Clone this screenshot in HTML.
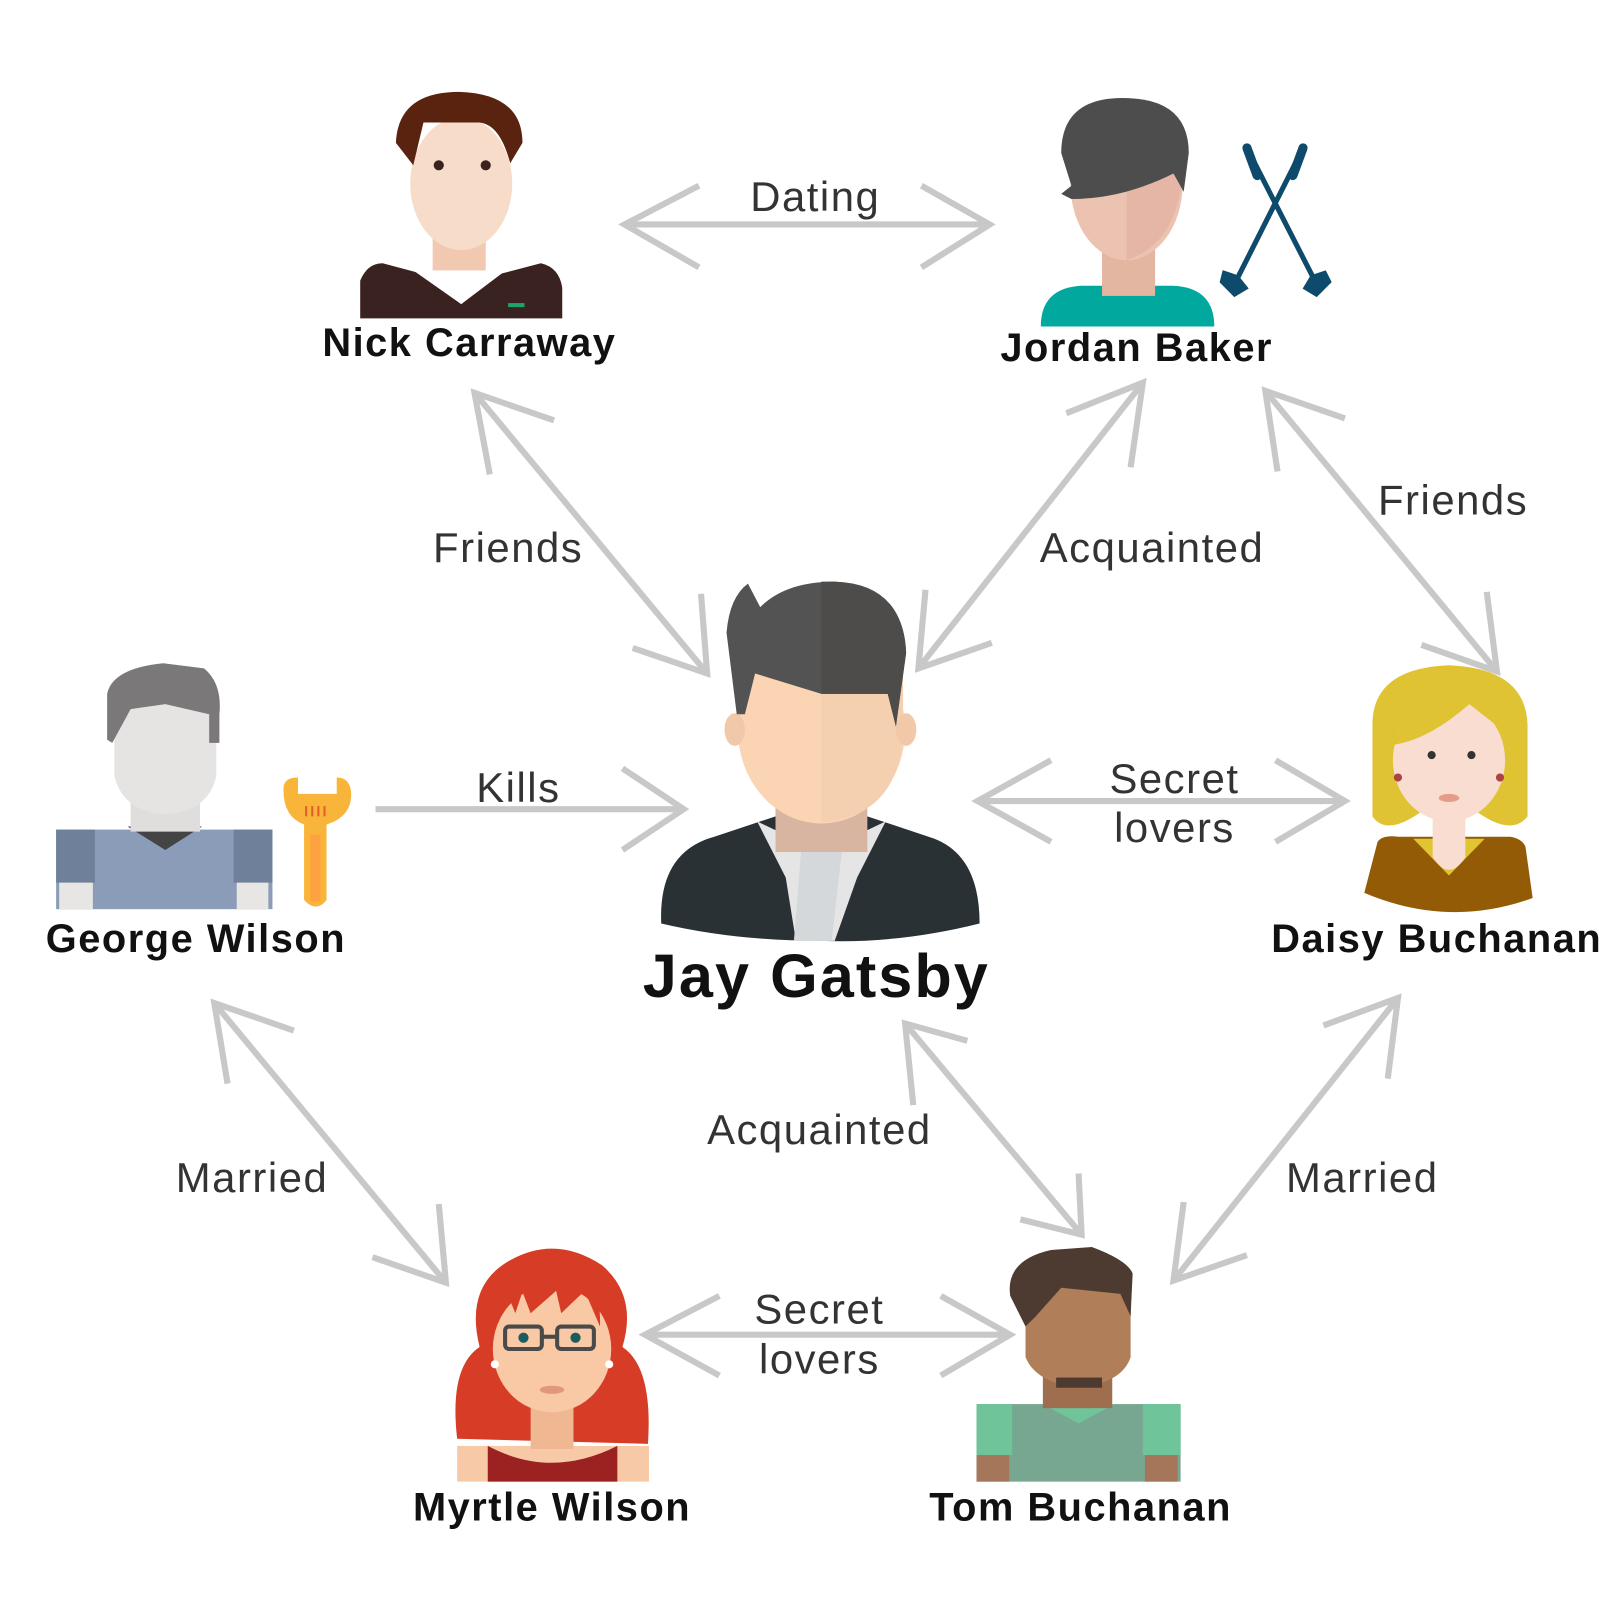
<!DOCTYPE html>
<html><head><style>
html,body{margin:0;padding:0;background:#fff;width:1600px;height:1600px;overflow:hidden}
svg{display:block}
.lbl{font-family:"Liberation Sans",sans-serif;font-size:41px;fill:#333;text-anchor:middle;letter-spacing:1.5px}
.nm{font-family:"Liberation Sans",sans-serif;font-weight:bold;font-size:39px;fill:#111;text-anchor:middle;letter-spacing:1.5px}
.ar{stroke:#c8c8c8;stroke-width:6;fill:none;stroke-linecap:butt}
</style></head><body>
<svg width="1600" height="1600" viewBox="0 0 1568 1568" xmlns="http://www.w3.org/2000/svg">
<g class="ar">
<line x1="612" y1="220" x2="970" y2="220"/><polyline points="685,182 612,220 685,262"/><polyline points="903,182 970,220 903,262"/>
<line x1="465" y1="385" x2="693" y2="660"/><polyline points="543,412 465,385 480,465"/><polyline points="620,635 693,660 687,582"/>
<line x1="1120" y1="375" x2="900" y2="655"/><polyline points="1045,405 1120,375 1108,458"/><polyline points="972,630 900,655 907,578"/>
<line x1="1240" y1="383" x2="1467" y2="658"/><polyline points="1318,410 1240,383 1252,462"/><polyline points="1393,632 1467,658 1457,580"/>
<line x1="368" y1="793" x2="670" y2="793"/><polyline points="610,753 670,793 610,833"/>
<line x1="958" y1="785" x2="1318" y2="785"/><polyline points="1030,745 958,785 1030,825"/><polyline points="1250,745 1318,785 1250,825"/>
<line x1="210" y1="983" x2="437" y2="1257"/><polyline points="288,1010 210,983 223,1062"/><polyline points="365,1232 437,1257 430,1180"/>
<line x1="887" y1="1003" x2="1060" y2="1210"/><polyline points="948,1020 887,1003 895,1083"/><polyline points="1000,1195 1060,1210 1057,1150"/>
<line x1="1370" y1="978" x2="1150" y2="1255"/><polyline points="1297,1005 1370,978 1360,1057"/><polyline points="1222,1230 1150,1255 1160,1178"/>
<line x1="632" y1="1308" x2="990" y2="1308"/><polyline points="705,1270 632,1308 705,1348"/><polyline points="922,1270 990,1308 922,1348"/>
</g>
<text class="lbl" x="799" y="207">Dating</text>
<text class="lbl" x="498" y="551">Friends</text>
<text class="lbl" x="1129" y="551">Acquainted</text>
<text class="lbl" x="1424" y="504">Friends</text>
<text class="lbl" x="508" y="786">Kills</text>
<text class="lbl" x="1151" y="777">Secret</text><text class="lbl" x="1151" y="825">lovers</text>
<text class="lbl" x="247" y="1168">Married</text>
<text class="lbl" x="803" y="1121">Acquainted</text>
<text class="lbl" x="1335" y="1168">Married</text>
<text class="lbl" x="803" y="1297">Secret</text><text class="lbl" x="803" y="1346">lovers</text>
<text class="nm" x="460" y="349">Nick Carraway</text>
<text class="nm" x="1114" y="354">Jordan Baker</text>
<text class="nm" x="192" y="933">George Wilson</text>
<text class="nm" x="1408" y="933">Daisy Buchanan</text>
<text class="nm" x="800" y="977" style="font-size:60px;letter-spacing:2px">Jay Gatsby</text>
<text class="nm" x="541" y="1490">Myrtle Wilson</text>
<text class="nm" x="1059" y="1490">Tom Buchanan</text>

<!-- Nick -->
<path d="M353,312 L353,275 Q360,258 375,258 L420,270 L452,298 L484,270 L530,258 Q548,262 551,282 L551,312 Z" fill="#3a2220"/>
<path d="M395,258 L452,298 L505,258 L480,255 L452,282 L422,255 Z" fill="#fff"/>
<rect x="424" y="220" width="52" height="45" fill="#f0c9b0"/>
<ellipse cx="452" cy="180" rx="50" ry="65" fill="#f6dcc9"/>
<path d="M388,140 Q390,90 450,90 Q512,92 512,140 L500,160 Q490,122 470,120 L415,120 L405,162 Z" fill="#5a230f"/>
<circle cx="430" cy="162" r="5" fill="#3a2220"/><circle cx="476" cy="162" r="5" fill="#3a2220"/>
<rect x="498" y="297" width="16" height="4" fill="#1da36b"/>

<!-- Jordan -->
<path d="M1020,320 Q1020,282 1060,280 L1150,280 Q1190,282 1190,320 Z" fill="#00a89e"/>
<rect x="1080" y="235" width="52" height="55" fill="#e3b6a2"/>
<ellipse cx="1104" cy="180" rx="55" ry="75" fill="#ecc3b1"/>
<path d="M1104,106 L1104,255 Q1150,240 1158,180 Q1160,120 1104,106 Z" fill="#e5b6a5"/>
<path d="M1040,150 Q1040,96 1100,96 Q1165,96 1165,150 L1160,188 L1150,170 Q1100,195 1050,195 L1040,190 L1050,182 Z" fill="#4d4d4d"/>
<g stroke="#0d4a6b" stroke-width="5" stroke-linecap="round">
<line x1="1222" y1="145" x2="1290" y2="278"/><line x1="1277" y1="145" x2="1210" y2="278"/>
<line x1="1222" y1="145" x2="1232" y2="172" stroke-width="9"/><line x1="1277" y1="145" x2="1267" y2="172" stroke-width="9"/>
<polygon points="1200,268 1212,272 1220,282 1210,288 1198,276" fill="#0d4a6b"/>
<polygon points="1298,268 1286,272 1280,282 1290,288 1302,276" fill="#0d4a6b"/>
</g>

<!-- Gatsby -->
<path d="M648,905 Q645,835 700,820 L760,800 L850,800 L910,820 Q960,835 960,905 Q880,925 805,922 Q720,922 648,905 Z" fill="#2a3135"/>
<path d="M742,805 L770,860 L780,922 L818,922 L840,860 L868,805 L805,835 Z" fill="#e5e5e5"/>
<path d="M785,835 L778,922 L815,922 L825,835 Z" fill="#d5d8da"/>
<rect x="760" y="770" width="90" height="65" fill="#d8b5a0"/>
<ellipse cx="805" cy="715" rx="82" ry="92" fill="#fbd5b3"/>
<path d="M805,625 L805,806 Q880,800 885,720 L885,640 Z" fill="#f4d0b1"/>
<ellipse cx="720" cy="715" rx="10" ry="16" fill="#f2c9a8"/><ellipse cx="888" cy="715" rx="10" ry="16" fill="#f2c9a8"/>
<path d="M722,700 L712,620 Q715,585 733,572 L745,595 Q770,570 818,570 Q885,572 888,640 L878,712 L870,680 L862,680 L805,680 L740,660 L730,700 Z" fill="#535353"/>
<path d="M805,570 L805,680 L870,680 L878,712 L888,640 Q886,575 818,570 Z" fill="#4d4c4b"/>

<!-- George -->
<rect x="55" y="813" width="212" height="78" fill="#8a9cb8"/>
<rect x="55" y="813" width="38" height="52" fill="#6e809a"/><rect x="229" y="813" width="38" height="52" fill="#6e809a"/>
<rect x="58" y="865" width="33" height="26" fill="#e8e6e4"/><rect x="232" y="865" width="31" height="26" fill="#e8e6e4"/>
<path d="M125,810 L162,833 L198,810 Z" fill="#444"/>
<rect x="128" y="765" width="68" height="50" fill="#e0dedc"/>
<path d="M112,690 L112,760 Q120,795 162,798 Q205,795 212,760 L212,690 Z" fill="#e6e4e2"/>
<path d="M105,725 L105,680 Q110,655 160,650 L200,655 Q218,670 215,700 L215,728 L205,728 L205,700 L162,690 L128,695 L110,728 Z" fill="#7a7878"/>
<path d="M278,770 Q280,762 292,762 L292,778 L330,778 L330,762 Q342,762 344,775 Q346,800 320,808 L320,882 Q310,895 298,882 L298,808 Q276,800 278,770 Z" fill="#f9b43a"/>
<rect x="304" y="818" width="10" height="65" fill="#fca240"/>
<g stroke="#e85a2a" stroke-width="2"><line x1="300" y1="790" x2="300" y2="800"/><line x1="306" y1="790" x2="306" y2="800"/><line x1="312" y1="790" x2="312" y2="800"/><line x1="318" y1="790" x2="318" y2="800"/></g>

<!-- Daisy -->
<path d="M1337,875 L1350,825 Q1355,818 1370,820 L1480,820 Q1492,822 1495,830 L1502,880 Q1420,910 1337,875 Z" fill="#935b05"/>
<path d="M1385,822 L1420,858 L1455,822 Z" fill="#e0c431"/>
<path d="M1404,790 L1404,840 Q1420,865 1436,840 L1436,790 Z" fill="#f8ddd0"/>
<path d="M1345,710 Q1345,655 1420,652 Q1495,655 1497,710 L1497,800 Q1480,822 1440,790 L1400,790 Q1360,822 1345,800 Z" fill="#dfc332"/>
<ellipse cx="1420" cy="745" rx="55" ry="60" fill="#f8ddd0"/>
<path d="M1365,730 Q1400,725 1440,690 L1478,720 L1478,690 Q1440,660 1390,680 Z" fill="#dfc332"/>
<circle cx="1403" cy="740" r="4" fill="#333"/><circle cx="1442" cy="740" r="4" fill="#333"/>
<ellipse cx="1420" cy="782" rx="10" ry="4" fill="#e79c8a"/>
<circle cx="1370" cy="762" r="4" fill="#a44"/><circle cx="1470" cy="762" r="4" fill="#a44"/>

<!-- Myrtle -->
<path d="M448,1410 Q440,1340 470,1320 Q455,1260 500,1235 Q545,1210 590,1240 Q625,1270 610,1320 Q640,1340 635,1415 Z" fill="#d73d26"/>
<rect x="448" y="1417" width="188" height="35" fill="#f8c9a6"/>
<path d="M478,1452 L478,1417 Q540,1450 605,1417 L605,1452 Z" fill="#9c2121"/>
<rect x="520" y="1370" width="42" height="50" fill="#f0b892"/>
<ellipse cx="541" cy="1322" rx="58" ry="62" fill="#f9c9a5"/>
<path d="M483,1300 L495,1262 L505,1287 L512,1266 L520,1287 L545,1265 L550,1287 L573,1265 L588,1300 Q590,1240 541,1238 Q484,1240 483,1300 Z" fill="#d73d26"/>
<g fill="none" stroke="#4a4a4a" stroke-width="4"><rect x="495" y="1300" width="36" height="22" rx="4"/><rect x="546" y="1300" width="36" height="22" rx="4"/><line x1="531" y1="1310" x2="546" y2="1310"/></g>
<circle cx="513" cy="1311" r="5" fill="#1d5c5e"/><circle cx="564" cy="1311" r="5" fill="#1d5c5e"/>
<circle cx="485" cy="1337" r="4" fill="#fff"/><circle cx="597" cy="1337" r="4" fill="#fff"/>
<ellipse cx="541" cy="1362" rx="12" ry="4" fill="#e0987a"/>

<!-- Tom -->
<rect x="957" y="1376" width="200" height="76" fill="#77a691"/>
<rect x="957" y="1376" width="35" height="50" fill="#6fc49a"/><rect x="1120" y="1376" width="37" height="50" fill="#6fc49a"/>
<rect x="957" y="1426" width="32" height="26" fill="#a5765a"/><rect x="1122" y="1426" width="32" height="26" fill="#a5765a"/>
<path d="M1022,1376 L1057,1395 L1092,1376 Z" fill="#6fc49a"/>
<rect x="1022" y="1330" width="68" height="50" fill="#9e6e4e"/>
<path d="M1005,1260 L1005,1330 Q1015,1355 1057,1360 Q1100,1355 1108,1330 L1108,1260 Z" fill="#b07f5a"/>
<path d="M990,1270 Q985,1235 1030,1225 L1070,1222 Q1105,1235 1110,1248 L1108,1290 L1098,1268 L1040,1262 L1015,1290 L1005,1300 Z" fill="#4d3b31"/>
<rect x="1035" y="1350" width="45" height="10" fill="#4d3b31"/>
</svg>
</body></html>
